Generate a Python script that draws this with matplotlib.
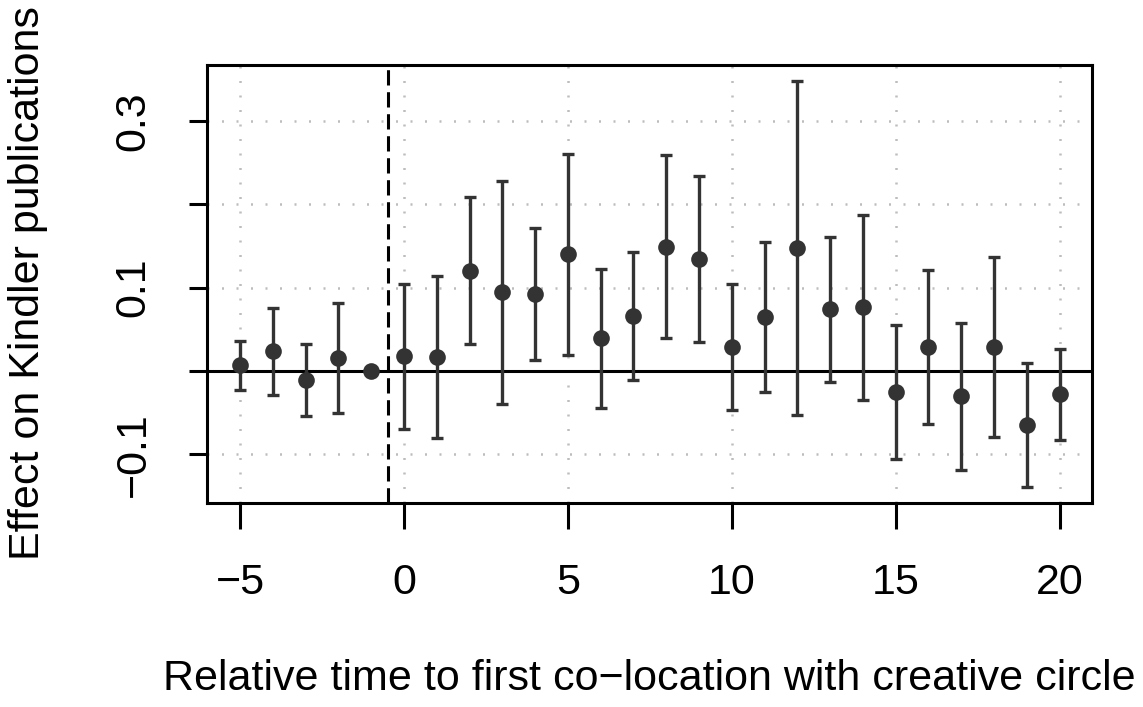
import numpy as np
import matplotlib
matplotlib.use("Agg")
import matplotlib.pyplot as plt

plt.rcParams['font.family'] = ['Liberation Sans', 'DejaVu Sans']

# ---- data ----
rel_time = list(range(-5, 21))
estimate = [0.0068, 0.0236, -0.0108, 0.0152, 0.0, 0.0176, 0.0172, 0.1204, 0.0944, 0.0920,
            0.1400, 0.0392, 0.0660, 0.1492, 0.1340, 0.0292, 0.0648, 0.1472, 0.0740, 0.0764,
            -0.0252, 0.0292, -0.0304, 0.0292, -0.0644, -0.0280]
ci_upper = [0.0356, 0.0760, 0.0320, 0.0812, np.nan, 0.1048, 0.1144, 0.2088, 0.2276, 0.1720,
            0.2604, 0.1228, 0.1424, 0.2596, 0.2336, 0.1048, 0.1552, 0.3476, 0.1608, 0.1872,
            0.0556, 0.1216, 0.0576, 0.1368, 0.0100, 0.0260]
ci_lower = [-0.0228, -0.0284, -0.0544, -0.0508, np.nan, -0.0700, -0.0808, 0.0328, -0.0392, 0.0132,
            0.0196, -0.0448, -0.0108, 0.0396, 0.0344, -0.0464, -0.0252, -0.0532, -0.0128, -0.0344,
            -0.1052, -0.0636, -0.1184, -0.0788, -0.1384, -0.0828]
x_ticks = [-5, 0, 5, 10, 15, 20]
y_ticks = [-0.1, 0.0, 0.1, 0.2, 0.3]
y_ticklabels = ['\u22120.1', '', '0.1', '', '0.3']
x_ticklabels = ['\u22125', '0', '5', '10', '15', '20']
event_line = -0.5
xlabel = 'Relative time to first co\u2212location with creative circle'
ylabel = 'Effect on Kindler publications'

x = np.array(rel_time, dtype=float)
y = np.array(estimate)
lo = np.array(ci_lower)
hi = np.array(ci_upper)

W, H = 1143, 707
fig = plt.figure(figsize=(W / 100, H / 100), dpi=100)
L, R, T, B = 207.3, 1092.3, 65.0, 502.7
ax = fig.add_axes([L / W, 1 - B / H, (R - L) / W, (B - T) / H])

col = '#333333'
lw = 2.2
fs = 31

# grid
for gx in x_ticks:
    ax.axvline(gx, color='#bdbdbd', lw=1.8, ls=(0, (0.8, 5)), zorder=0)
for gy in y_ticks:
    ax.axhline(gy, color='#bdbdbd', lw=1.8, ls=(0, (0.8, 5)), zorder=0)

ax.axhline(0, color='black', lw=lw, zorder=1)
ax.axvline(event_line, color='black', lw=lw, ls=(0, (5, 2.2)), zorder=1)

m = ~np.isnan(hi)
ax.errorbar(x[m], y[m], yerr=[y[m] - lo[m], hi[m] - y[m]], fmt='none',
            ecolor=col, elinewidth=2.4, capsize=4.3, capthick=2.4, zorder=2)
ax.plot(x, y, 'o', color=col, markersize=12, markeredgewidth=0, zorder=3)

ax.set_xlim(-6.0, 21.0)
ax.set_ylim(-0.1578, 0.3670)
ax.set_xticks(x_ticks)
ax.set_xticklabels(x_ticklabels, fontsize=fs)
ax.set_yticks(y_ticks)
ax.set_yticklabels(y_ticklabels, fontsize=fs, rotation=90, va='center')
ax.tick_params(axis='x', length=18.7, width=lw, pad=25, color='black')
ax.tick_params(axis='y', length=12.7, width=lw, pad=26, color='black')
for s in ax.spines.values():
    s.set_linewidth(lw)
    s.set_color('black')

fig.text((L + R) / 2 / W, 1 - 690 / H, xlabel, fontsize=fs, ha='center', va='baseline')
fig.text(28 / W, 1 - 283 / H, ylabel, fontsize=fs, ha='center', va='center', rotation=90)

fig.savefig('out.png', dpi=100)
